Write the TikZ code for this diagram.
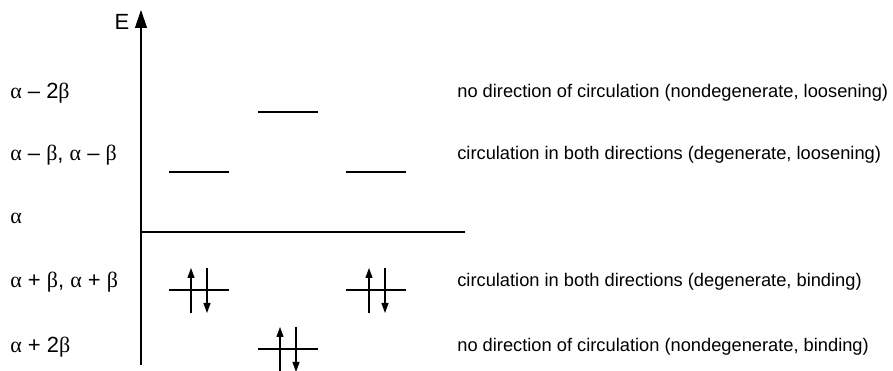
\documentclass[tikz,border=0pt]{standalone}
\usepackage{fontspec}
\setmainfont{Liberation Sans}
\newfontfamily\greekfont{Liberation Serif}
\usetikzlibrary{arrows.meta,positioning}
\newcommand{\ga}{{\greekfont α}}
\newcommand{\gb}{{\greekfont β}}
\tikzset{
  % energy axis and the zero line
  axisln/.style={-{Triangle[length=3.6mm,width=2.4mm]}, line width=0.7pt},
  baseln/.style={line width=0.6pt},
  % one orbital level
  levelln/.style={line width=0.6pt},
  % electron spins
  spinln/.style={-{Triangle[length=2mm,width=1.4mm]}, line width=0.6pt},
  % text columns
  lvllabel/.style={anchor=west, inner sep=0pt, font=\fontsize{12.5}{14}\selectfont},
  desclabel/.style={anchor=west, inner sep=0pt, font=\fontsize{10.4}{12}\selectfont},
}
\begin{document}
\begin{tikzpicture}
  \useasboundingbox (0,0) rectangle (17.86,7.42);
  % --- axis ---
  \coordinate (axbot) at (2.82,0.12);
  \coordinate (axtop) at (2.82,7.22);
  \draw[axisln] (axbot) -- (axtop);
  \node[font=\fontsize{12.5}{14}\selectfont] (elab) at (2.44,6.98) {E};
  % alpha line
  \coordinate (al) at (2.82,2.78);
  \coordinate (ar) at (9.30,2.78);
  \draw[baseln] (al) -- (ar);
  % --- levels ---
  \coordinate (l1a) at (5.16,5.18); \coordinate (l1b) at (6.36,5.18);
  \coordinate (l2a) at (3.38,3.98); \coordinate (l2b) at (4.58,3.98);
  \coordinate (l3a) at (6.92,3.98); \coordinate (l3b) at (8.12,3.98);
  \coordinate (l4a) at (3.38,1.62); \coordinate (l4b) at (4.58,1.62);
  \coordinate (l5a) at (6.92,1.62); \coordinate (l5b) at (8.12,1.62);
  \coordinate (l6a) at (5.16,0.44); \coordinate (l6b) at (6.36,0.44);
  \foreach \l in {1,...,6}
    \draw[levelln] (l\l a) -- (l\l b);
  % --- electrons (paired spins) ---
  \foreach \n/\x/\y in {s1/3.82/1.62, s2/7.38/1.62, s3/5.60/0.44} {
    \coordinate (\n ub) at (\x,\y-0.46);
    \coordinate (\n ut) at (\x,\y+0.44);
    \coordinate (\n dt) at (\x+0.32,\y+0.44);
    \coordinate (\n db) at (\x+0.32,\y-0.46);
    \draw[spinln] (\n ub) -- (\n ut);
    \draw[spinln] (\n dt) -- (\n db);
  }
  % --- level labels ---
  \node[lvllabel] (e1) at (0.2,5.56) {\ga{} – 2\gb};
  \node[lvllabel] (e2) at (0.2,4.32) {\ga{} – \gb, \ga{} – \gb};
  \node[lvllabel] (e3) at (0.2,3.06) {\ga};
  \node[lvllabel] (e4) at (0.2,1.78) {\ga{} + \gb, \ga{} + \gb};
  \node[lvllabel] (e5) at (0.2,0.48) {\ga{} + 2\gb};
  % --- descriptions ---
  \node[desclabel] (d1) at (9.14,5.56) {no direction of circulation (nondegenerate, loosening)};
  \node[desclabel] (d2) at (9.14,4.32) {circulation in both directions (degenerate, loosening)};
  \node[desclabel] (d4) at (9.14,1.78) {circulation in both directions (degenerate, binding)};
  \node[desclabel] (d5) at (9.14,0.48) {no direction of circulation (nondegenerate, binding)};
\end{tikzpicture}
\end{document}
